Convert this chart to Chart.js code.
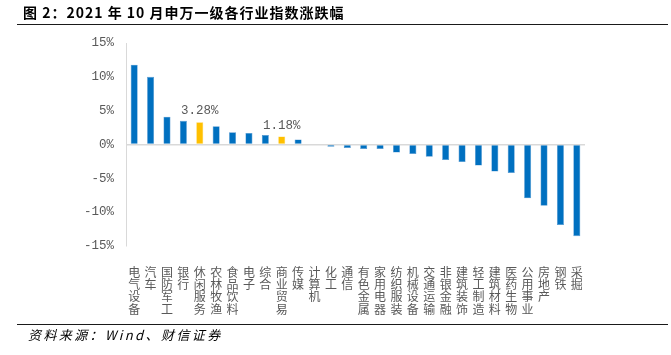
<!DOCTYPE html>
<html>
<head>
<meta charset="utf-8">
<script src="https://cdn.jsdelivr.net/npm/chart.js@4/dist/chart.umd.min.js"></script>
<style>
html,body{margin:0;padding:0;background:#fff;}
#wrap{position:relative;width:671px;height:355px;overflow:hidden;}
#c{position:absolute;left:0;top:0;display:block;}
#title{position:absolute;left:23px;top:3px;font:bold 14px "Noto Sans CJK SC";letter-spacing:1px;color:#000;white-space:nowrap;line-height:18px;}
#source{position:absolute;left:28px;top:326px;font:italic 13px "Noto Sans CJK SC";letter-spacing:2.4px;color:#000;white-space:nowrap;line-height:18px;}
.rule{position:absolute;left:17px;width:651px;height:0;border-top:1.5px solid #1a1a1a;}
</style>
</head>
<body>
<div id="wrap">
<canvas id="c" width="671" height="355"></canvas>
<div id="title"></div>
<div class="rule" style="top:23.5px"></div>
<div class="rule" style="top:324px"></div>
<div id="source"></div>
</div>
<script>
const categories = ['电气设备','汽车','国防军工','银行','休闲服务','农林牧渔','食品饮料','电子','综合','商业贸易','传媒','计算机','化工','通信','有色金属','家用电器','纺织服装','机械设备','交通运输','非银金融','建筑装饰','轻工制造','建筑材料','医药生物','公用事业','房地产','钢铁','采掘'];
const changes = [11.8,10.0,4.1,3.5,3.28,2.7,1.8,1.7,1.4,1.18,0.75,-0.1,-0.35,-0.5,-0.65,-0.65,-1.2,-1.4,-1.8,-2.3,-2.6,-3.1,-4.0,-4.2,-7.95,-9.05,-11.9,-13.55];
const highlighted = ['休闲服务','商业贸易'];
const yTicks = [15,10,5,0,-5,-10,-15];
const titleText = '图 2：2021 年 10 月申万一级各行业指数涨跌幅';
const sourceText = '资料来源：Wind、财信证券';

document.getElementById('title').textContent = titleText;
document.getElementById('source').textContent = sourceText;

const BLUE = '#0070C0', YELLOW = '#FFC000';
const colors = categories.map(c => highlighted.includes(c) ? YELLOW : BLUE);

const valueLabels = {
  id: 'valueLabels',
  afterDatasetsDraw(chart) {
    const ctx = chart.ctx;
    const meta = chart.getDatasetMeta(0);
    ctx.save();
    ctx.font = '12.5px "Liberation Mono"';
    ctx.fillStyle = '#595959';
    ctx.textAlign = 'center';
    ctx.textBaseline = 'bottom';
    categories.forEach((c, i) => {
      if (highlighted.includes(c)) {
        const el = meta.data[i];
        ctx.fillText(changes[i].toFixed(2) + '%', el.x, el.y - 5);
      }
    });
    ctx.restore();
  }
};

new Chart(document.getElementById('c'), {
  type: 'bar',
  data: {
    labels: categories.map(c => c.split('')),
    datasets: [{
      data: changes,
      backgroundColor: colors,
      borderColor: categories.map(c => highlighted.includes(c) ? '#ffd24d' : '#4d94d0'),
      borderWidth: 0.6,
      barPercentage: 0.43,
      categoryPercentage: 1.0
    }]
  },
  options: {
    responsive: false,
    animation: false,
    layout: { padding: { left: 0, right: 86, top: 43, bottom: 0 } },
    plugins: { legend: { display: false }, tooltip: { enabled: false }, title: { display: false } },
    scales: {
      x: {
        grid: { display: false },
        border: { display: false },
        ticks: {
          autoSkip: false, maxRotation: 0, minRotation: 0,
          color: '#595959',
          font: { family: '"Noto Sans CJK SC"', size: 12, lineHeight: 1.03 },
          padding: 12
        },
        afterFit(scale) { scale.height = 109; }
      },
      y: {
        min: -15, max: 15,
        afterBuildTicks(scale) { scale.ticks = yTicks.map(v => ({ value: v })); },
        grid: {
          drawTicks: false,
          color: ctx => (ctx.tick && ctx.tick.value === 0) ? '#d9d9d9' : 'rgba(0,0,0,0)',
          lineWidth: 1.5
        },
        border: { display: true, color: '#d9d9d9', width: 1 },
        ticks: {
          color: '#595959',
          font: { family: '"Liberation Mono"', size: 12.5 },
          padding: 12,
          callback: v => v + '%'
        },
        afterFit(scale) { scale.width = 126; }
      }
    }
  },
  plugins: [valueLabels]
});
</script>
</body>
</html>
